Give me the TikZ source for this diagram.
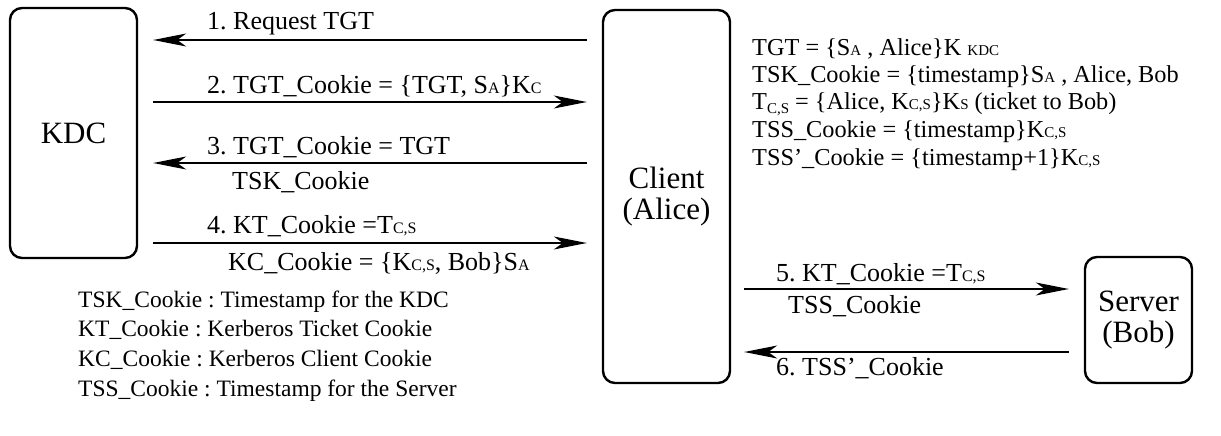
\documentclass[tikz,border=0pt]{standalone}
\usepackage{fontspec}
\setmainfont{Liberation Serif}
\newfontfamily\tms{Liberation Serif}
\usetikzlibrary{arrows.meta}
\frenchspacing
\newcommand\sm[1]{{\fontsize{16}{16}\selectfont #1}}
\newcommand\smr[1]{{\fontsize{15}{15}\selectfont #1}}
\newcommand\lowsub[1]{\raisebox{-4pt}{\smr{#1}}}
\tikzset{
  box/.style={draw, line width=2.4pt, rounded corners=12pt, inner sep=0pt, align=center, font=\tms\fontsize{31}{31}\selectfont},
  arr/.style={line width=1.3pt, -{Stealth[length=33pt,width=13pt,inset=9pt]}},
  lbl/.style={anchor=base west, inner sep=0pt, font=\tms\frenchspacing\fontsize{26}{30}\selectfont},
  defn/.style={lbl, font=\tms\frenchspacing\fontsize{24.3}{30}\selectfont},
  leg/.style={lbl, font=\tms\frenchspacing\fontsize{23.5}{30}\selectfont},
}
\begin{document}
\begin{tikzpicture}[x=1pt,y=-1pt]
\useasboundingbox (0,0) rectangle (1221,436);
% boxes
\node[box, minimum width=127, minimum height=250] (kdc) at (73.5,133) {KDC};
\node[box, minimum width=127, minimum height=373] (client) at (666.5,196.5) {Client\\(Alice)};
\node[box, minimum width=107, minimum height=126] (server) at (1138.5,320) {Server\\(Bob)};
% KDC <-> Client arrows
\draw[arr] ([xshift=-15]client.west |- 0,40) -- ([xshift=15]kdc.east |- 0,40);
\draw[arr] ([xshift=15]kdc.east |- 0,102) -- ([xshift=-15]client.west |- 0,102);
\draw[arr] ([xshift=-15]client.west |- 0,163) -- ([xshift=15]kdc.east |- 0,163);
\draw[arr] ([xshift=15]kdc.east |- 0,243) -- ([xshift=-15]client.west |- 0,243);
% Client <-> Server arrows
\draw[arr] ([xshift=13]client.east |- 0,289) -- ([xshift=-15]server.west |- 0,289);
\draw[arr] ([xshift=-15]server.west |- 0,352) -- ([xshift=13]client.east |- 0,352);
% arrow labels
\node[lbl] (l1) at (207,30) {1. Request TGT};
\node[lbl] (l2) at (207,93) {2. TGT\_Cookie = \{TGT, S\sm{A}\}K\sm{C}};
\node[lbl] (l3) at (207,154) {3. TGT\_Cookie = TGT};
\node[lbl] (l3b) at (232,189) {TSK\_Cookie};
\node[lbl] (l4) at (207,233) {4. KT\_Cookie =T\sm{C,S}};
\node[lbl] (l4b) at (228,270) {KC\_Cookie = \{K\sm{C,S}, Bob\}S\sm{A}};
\node[lbl] (l5) at (776,281) {5. KT\_Cookie =T\sm{C,S}};
\node[lbl] (l5b) at (788,313) {TSS\_Cookie};
\node[lbl] (l6) at (776,375) {6. TSS’\_Cookie};
% definitions
\node[defn] (d1) at (752,56) {TGT = \{S\smr{A} , Alice\}K \smr{KDC}};
\node[defn] (d2) at (752,83) {TSK\_Cookie = \{timestamp\}S\smr{A} , Alice, Bob};
\node[defn] (d3) at (752,110) {T\lowsub{C,S} = \{Alice, K\smr{C,S}\}K\smr{S} (ticket to Bob)};
\node[defn] (d4) at (752,137) {TSS\_Cookie = \{timestamp\}K\smr{C,S}};
\node[defn] (d5) at (752,165) {TSS’\_Cookie = \{timestamp+1\}K\smr{C,S}};
% legend
\node[leg] (g1) at (78,307) {TSK\_Cookie : Timestamp for the KDC};
\node[leg] (g2) at (78,336) {KT\_Cookie : Kerberos Ticket Cookie};
\node[leg] (g3) at (78,366) {KC\_Cookie : Kerberos Client Cookie};
\node[leg] (g4) at (78,396) {TSS\_Cookie : Timestamp for the Server};
\end{tikzpicture}
\end{document}
